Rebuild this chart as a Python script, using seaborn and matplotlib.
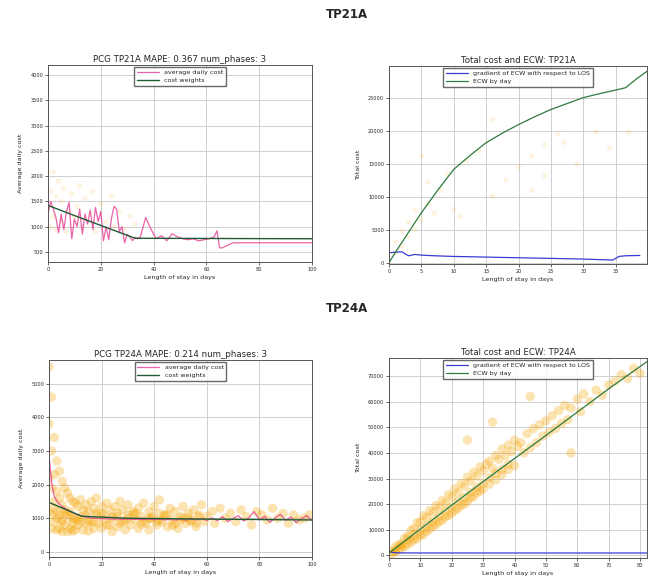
import matplotlib
matplotlib.use("Agg")
import matplotlib.pyplot as plt
import seaborn as sns

# ---- TP21A: average daily cost per length of stay ----
tp21_days = [0, 1, 2, 3, 4, 5, 6, 7, 8, 9, 10, 11, 12, 13, 14, 15, 16, 17, 18, 19,
             20, 21, 22, 23, 24, 25, 26, 27, 28, 29, 30, 31, 32, 33, 34, 35, 37, 39,
             41, 43, 45, 47, 49, 51, 53, 55, 57, 59, 61, 63, 64, 65, 66, 70, 80, 90, 100]
tp21_avg_cost = [1260, 1500, 1350, 1180, 880, 1250, 940, 1300, 1480, 760, 1150, 1000,
                 1350, 850, 1250, 1050, 1330, 940, 1380, 1100, 1300, 720, 1000, 740,
                 1150, 1400, 1350, 900, 1000, 680, 850, 800, 720, 790, 760, 800, 1180,
                 950, 760, 820, 720, 860, 800, 760, 740, 760, 720, 740, 760, 800, 920,
                 580, 580, 680, 680, 680, 680]
tp21_weight_days = [0, 11, 22, 33, 100]
tp21_weights = [1420, 1200, 985, 770, 760]
tp21_pts_days = [0, 1, 1, 2, 2, 3, 3, 4, 5, 5, 6, 7, 8, 9, 10, 11, 12, 13, 14, 16,
                 17, 18, 20, 22, 24, 25, 27, 29, 31, 33]
tp21_pts_cost = [2100, 1700, 1000, 2080, 1200, 950, 1600, 1900, 1100, 1500, 1750, 900,
                 1300, 1650, 1200, 1400, 1800, 1000, 1550, 1250, 1700, 900, 1450, 1100,
                 1600, 1000, 1300, 950, 1200, 1050]

# ---- TP21A: total cost and ECW ----
tp21_ecw_days = [0, 1, 2, 3, 5, 7.5, 10, 12.5, 15, 17.5, 20, 22.5, 25, 27.5, 30, 32.5,
                 35, 36.5, 38, 39.8]
tp21_ecw = [0, 1600, 3100, 4600, 7600, 11000, 14200, 16300, 18250, 19700, 21000, 22200,
            23300, 24200, 25100, 25700, 26250, 26600, 27800, 29100]
tp21_grad_days = [0, 1, 2, 3, 4, 5, 7, 10, 15, 20, 25, 30, 33, 34.5, 35.5, 36.5, 38.7]
tp21_grad = [1500, 1600, 1650, 1050, 1250, 1150, 1050, 950, 850, 750, 650, 550, 450, 400,
             950, 1050, 1100]
tp21_tot_days = [1, 1, 2, 2, 3, 3, 4, 4, 5, 5, 6, 6, 7, 8, 9, 10, 11, 12, 14, 16, 16,
                 18, 20, 22, 22, 24, 24, 26, 27, 29, 32, 34, 37]
tp21_tot_cost = [1500, 3200, 2500, 4800, 3900, 6200, 5100, 8000, 6500, 16200, 9000,
                 12200, 7500, 11000, 13500, 8100, 7000, 15500, 17000, 10100, 21800,
                 12500, 14500, 16200, 11000, 13200, 18000, 19500, 18250, 15000, 19800,
                 17500, 19800]

# ---- TP24A: average daily cost per length of stay ----
tp24_days = [0, 1, 2, 3, 4, 5, 6, 7, 8, 9, 10, 11, 12, 13, 14, 15, 16, 18, 20, 22, 24,
             26, 28, 30, 32, 34, 36, 38, 40, 42, 44, 46, 48, 50, 52, 54, 56, 58, 60, 62,
             64, 66, 68, 70, 72, 74, 76, 78, 80, 82, 84, 86, 88, 90, 92, 94, 96, 98, 100]
tp24_avg_cost = [2900, 2050, 1650, 1500, 1420, 1350, 1300, 1250, 1210, 1170, 1130, 1100,
                 1080, 1060, 1040, 1030, 1010, 1000, 990, 985, 975, 980, 970, 975, 965,
                 970, 960, 975, 960, 970, 955, 965, 950, 970, 945, 980, 950, 990, 940,
                 1010, 930, 1050, 900, 1000, 1080, 920, 1020, 1200, 950, 1060, 880, 1010,
                 1120, 940, 1040, 870, 990, 1080, 930]
tp24_weight_days = [0, 12.5, 30, 60, 100]
tp24_weights = [1470, 1060, 1000, 975, 950]
tp24_pts_days = [0, 0, 0, 0, 1, 1, 1, 1, 1, 2, 2, 2, 2, 3, 3, 3, 3, 4, 4, 4, 4, 5, 5, 5,
                 5, 6, 6, 6, 7, 7, 7, 8, 8, 8, 9, 9, 9, 10, 10, 10, 11, 11, 12, 12, 13,
                 13, 14, 14, 15, 15, 16, 16, 17, 17, 18, 18, 19, 20, 20, 21, 22, 22, 23,
                 24, 24, 25, 26, 26, 27, 28, 28, 29, 30, 30, 31, 32, 33, 34, 34, 35, 36,
                 37, 38, 38, 39, 40, 41, 42, 42, 43, 44, 45, 46, 47, 48, 49, 50, 51, 52,
                 53, 54, 55, 56, 57, 58, 59, 60, 62, 63, 65, 67, 69, 71, 73, 75, 77, 79,
                 81, 83, 85, 87, 89, 91, 93, 95, 97, 99,
                 3, 6, 9, 12, 15, 18, 21, 24, 27, 30, 33, 36, 39, 42, 45, 48, 51, 54, 57,
                 2, 5, 8, 11, 14, 17, 20, 23, 26, 29, 32, 35, 38, 41, 44, 47, 50, 53, 56]
tp24_pts_cost = [5500, 3800, 2200, 1200, 4600, 3000, 1900, 1100, 700, 3400, 2300, 1500,
                 900, 2700, 1800, 1200, 650, 2400, 1600, 1100, 700, 2100, 1400, 950, 600,
                 1900, 1250, 800, 1750, 1150, 600, 1600, 1050, 700, 1500, 980, 620, 1450,
                 1000, 650, 1350, 800, 1550, 900, 1250, 650, 1400, 850, 1200, 620, 1500,
                 900, 1300, 700, 1150, 1600, 850, 1350, 700, 1100, 1450, 800, 1250, 1000,
                 600, 1350, 1150, 750, 1500, 900, 1250, 650, 1100, 1400, 800, 1200, 950,
                 1300, 700, 1050, 1450, 850, 1200, 650, 1000, 1350, 800, 1150, 1550, 900,
                 1100, 750, 1300, 950, 1200, 700, 1050, 1350, 850, 1150, 950, 1250, 750,
                 1100, 1400, 900, 1050, 1200, 850, 1300, 1000, 1150, 900, 1250, 1050, 800,
                 1200, 1100, 950, 1300, 1000, 1150, 850, 1100, 950, 1000, 1100,
                 1000, 1150, 850, 1050, 900, 1100, 950, 1050, 850, 1000, 1150, 900, 1050,
                 950, 1100, 850, 1000, 900, 1050,
                 1300, 900, 1200, 950, 1100, 880, 1150, 800, 1050, 920, 1120, 820, 1000,
                 900, 1080, 780, 950, 1020, 860]

# ---- TP24A: total cost and ECW ----
tp24_ecw_days = [0, 5, 10, 20, 30, 40, 50, 60, 70, 82.2]
tp24_ecw = [900, 5600, 10300, 19600, 28800, 37800, 46800, 55900, 65000, 75600]
tp24_grad_days = [0, 1, 2, 3, 5, 10, 20, 40, 60, 82.2]
tp24_grad = [1500, 1200, 1050, 1000, 980, 960, 955, 950, 950, 950]
tp24_tot_days = [1, 1, 2, 2, 3, 3, 4, 4, 5, 5, 6, 6, 7, 7, 8, 8, 9, 9, 10, 10, 11, 11,
                 12, 12, 13, 13, 14, 14, 15, 15, 16, 16, 17, 17, 18, 18, 19, 19, 20, 20,
                 21, 21, 22, 22, 23, 23, 24, 24, 25, 25, 26, 26, 27, 27, 28, 28, 29, 29,
                 30, 30, 31, 32, 32, 33, 34, 34, 35, 36, 36, 37, 38, 38, 39, 40, 40, 41,
                 42, 43, 44, 45, 46, 47, 48, 49, 50, 51, 52, 53, 54, 55, 56, 57, 58, 60,
                 61, 62, 64, 66, 68, 70, 72, 74, 76, 78, 80, 25, 33, 45, 58,
                 2, 4, 6, 8, 10, 12, 14, 16, 18, 20, 22, 24, 26, 28, 30, 32, 34, 36, 38]
tp24_tot_cost = [1500, 700, 3200, 1400, 4100, 2200, 4700, 2900, 6800, 3500, 7500, 4300,
                 9800, 5200, 10500, 6100, 12800, 6600, 13000, 7800, 15500, 8100, 14800,
                 9500, 17500, 10200, 16800, 11500, 19500, 12000, 18600, 13200, 21500,
                 13800, 20500, 15000, 23800, 15600, 22800, 16500, 26000, 17500, 24500,
                 18300, 28000, 19500, 27000, 20100, 30500, 21000, 29000, 22500, 32500,
                 23000, 31000, 24500, 34500, 25000, 33000, 26000, 35500, 36800, 27800,
                 34000, 39000, 29500, 37500, 41500, 31500, 39000, 43000, 33500, 40500,
                 45000, 35000, 42500, 44000, 40000, 47500, 42000, 49500, 44000, 51000,
                 46500, 52500, 48000, 54500, 49500, 56500, 51500, 58500, 53000, 57500,
                 61000, 56000, 63000, 60000, 64500, 62500, 66500, 68000, 70500, 69000,
                 73000, 71000, 45000, 52000, 62000, 40000,
                 2000, 4000, 6200, 7800, 9600, 11500, 13200, 15300, 17200, 19000, 21000,
                 22700, 24600, 26500, 28000, 30200, 32000, 33500, 35600]

sns.set_theme(style="ticks")
plt.rcParams["font.family"] = ["DejaVu Sans"]

fig = plt.figure(figsize=(6.48, 5.84), dpi=100)
W, H = 648, 584
ax_tl = fig.add_axes([48 / W, 1 - 262 / H, 264 / W, 197 / H])
ax_tr = fig.add_axes([389 / W, 1 - 264 / H, 258 / W, 198 / H])
ax_bl = fig.add_axes([49 / W, 1 - 557 / H, 263 / W, 197 / H])
ax_br = fig.add_axes([389 / W, 1 - 558 / H, 258 / W, 200 / H])

fig.text(347 / W, 1 - 15 / H, "TP21A", ha="center", va="center",
         fontsize=8.5, fontweight="bold")
fig.text(347 / W, 1 - 308 / H, "TP24A", ha="center", va="center",
         fontsize=8.5, fontweight="bold")

PINK = "#e8479a"
DGREEN = "#1f5c35"
BLUE = "#3a3ad6"
EGREEN = "#2f7a3e"
ORANGE = "#f5a300"


def style_axes(ax, title, ylabel):
    ax.set_title(title, fontsize=6.2, pad=2.5)
    ax.set_xlabel("Length of stay in days", fontsize=4.6, labelpad=2)
    ax.set_ylabel(ylabel, fontsize=4.6, labelpad=5)
    ax.tick_params(labelsize=3.6, length=2, width=0.5, pad=1.5)
    ax.grid(True, color="#c8c8c8", linewidth=0.6)
    for s in ax.spines.values():
        s.set_linewidth(0.7)
        s.set_color("#555555")
    ax.legend(loc="upper center", fontsize=4.6, frameon=True, fancybox=False,
              edgecolor="#444444", handlelength=3.5, borderpad=0.4, labelspacing=0.4,
              borderaxespad=0.3)


# average daily cost panels
def daily_panel(ax, pts_x, pts_y, days, avg, wdays, weights, title, alpha_pts, size,
                ylim):
    sns.scatterplot(x=pts_x, y=pts_y, ax=ax, color=ORANGE, alpha=alpha_pts, s=size,
                    edgecolor="none", legend=False)
    sns.lineplot(x=days, y=avg, ax=ax, color=PINK, linewidth=0.9, alpha=0.85,
                 label="average daily cost", errorbar=None)
    sns.lineplot(x=wdays, y=weights, ax=ax, color=DGREEN, linewidth=1.0,
                 label="cost weights", errorbar=None)
    ax.set_xlim(0, 100)
    ax.set_ylim(*ylim)
    ax.set_xticks([0, 20, 40, 60, 80, 100])
    style_axes(ax, title, "Average daily cost")


def total_panel(ax, pts_x, pts_y, gdays, grad, edays, ecw, title, alpha_pts, size,
                xlim, ylim, xticks):
    sns.scatterplot(x=pts_x, y=pts_y, ax=ax, color=ORANGE, alpha=alpha_pts, s=size,
                    edgecolor="none", legend=False)
    sns.lineplot(x=gdays, y=grad, ax=ax, color=BLUE, linewidth=0.9,
                 label="gradient of ECW with respect to LOS", errorbar=None)
    sns.lineplot(x=edays, y=ecw, ax=ax, color=EGREEN, linewidth=0.9,
                 label="ECW by day", errorbar=None)
    ax.set_xlim(*xlim)
    ax.set_ylim(*ylim)
    ax.set_xticks(xticks)
    style_axes(ax, title, "Total cost")


daily_panel(ax_tl, tp21_pts_days, tp21_pts_cost, tp21_days, tp21_avg_cost,
            tp21_weight_days, tp21_weights, "PCG TP21A MAPE: 0.367 num_phases: 3",
            0.12, 14, (300, 4200))
ax_tl.set_yticks([500, 1000, 1500, 2000, 2500, 3000, 3500, 4000])

total_panel(ax_tr, tp21_tot_days, tp21_tot_cost, tp21_grad_days, tp21_grad,
            tp21_ecw_days, tp21_ecw, "Total cost and ECW: TP21A", 0.12, 14,
            (0, 39.8), (-200, 29900), [0, 5, 10, 15, 20, 25, 30, 35])

daily_panel(ax_bl, tp24_pts_days, tp24_pts_cost, tp24_days, tp24_avg_cost,
            tp24_weight_days, tp24_weights, "PCG TP24A MAPE: 0.214 num_phases: 3",
            0.3, 45, (-150, 5700))
ax_bl.set_yticks([0, 1000, 2000, 3000, 4000, 5000])

total_panel(ax_br, tp24_tot_days, tp24_tot_cost, tp24_grad_days, tp24_grad,
            tp24_ecw_days, tp24_ecw, "Total cost and ECW: TP24A", 0.3, 45,
            (0, 82.2), (-1000, 77000), [0, 10, 20, 30, 40, 50, 60, 70, 80])

fig.savefig("out.png", dpi=100)
